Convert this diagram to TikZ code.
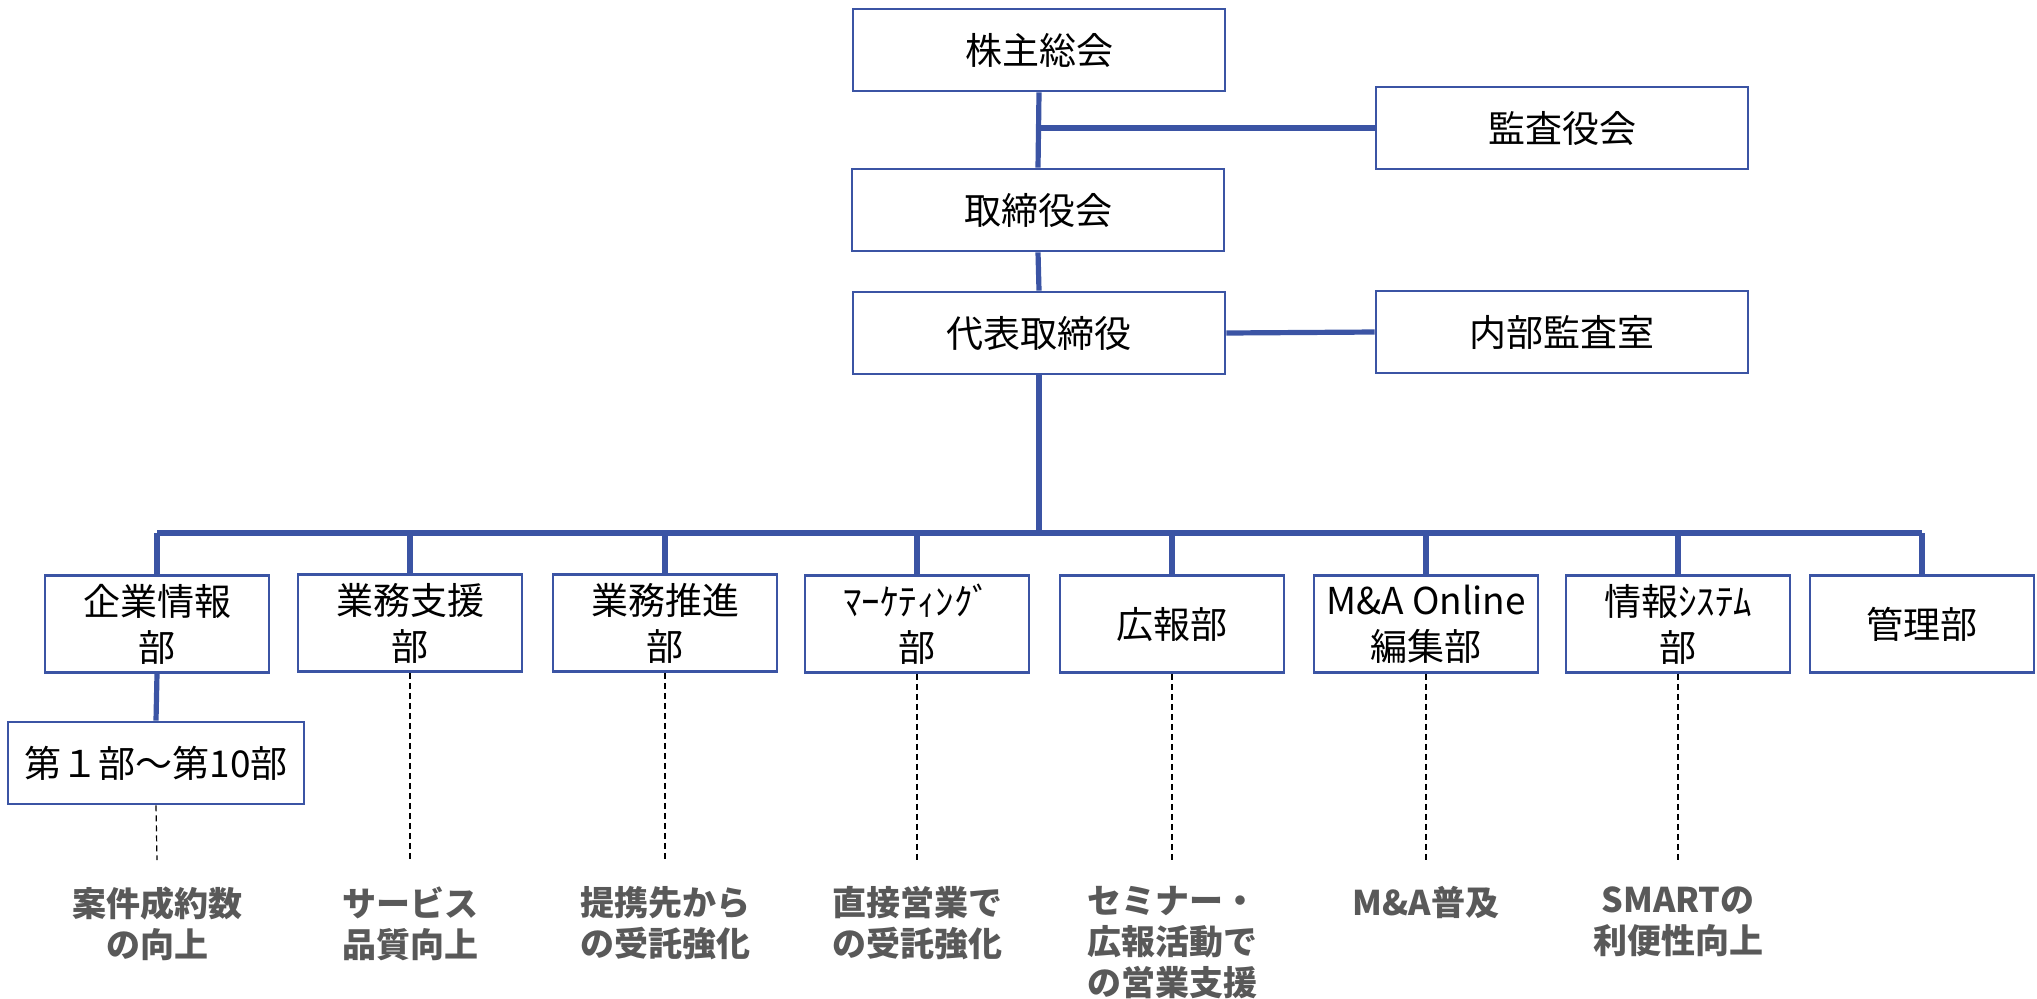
\documentclass[tikz,border=0pt]{standalone}
\usepackage{fontspec}
\setmainfont{Noto Sans CJK JP}
\usepackage{tikz}

\definecolor{orgblue}{RGB}{59,84,164}
\definecolor{goalgray}{RGB}{89,89,89}

\begin{document}
\begin{tikzpicture}[x=0.5pt,y=-0.5pt,
        orgbox/.style={draw=orgblue,line width=1.4pt,align=center,inner sep=0pt,
            font=\fontsize{18.5}{23}\selectfont},
        topbox/.style={orgbox,minimum width=186pt,minimum height=41pt},
        deptbox/.style={orgbox,minimum width=112pt,minimum height=48.5pt},
        goal/.style={anchor=north,align=center,inner sep=0pt,text=goalgray,
            font=\fontsize{17}{20.5}\selectfont\bfseries},
        conn/.style={draw=orgblue,line width=2.6pt},
        goalline/.style={draw=black,line width=0.6pt,dash pattern=on 3pt off 2pt}]
        \useasboundingbox (0,0) rectangle (2037,998);

        \node[topbox] (kabu) at (1039,50) {株主総会};
        \node[topbox] (kansa) at (1562,128) {監査役会};
        \node[topbox] (tori) at (1038,210) {取締役会};
        \node[topbox] (daihyo) at (1039,333) {代表取締役};
        \node[topbox] (naibu) at (1562,332) {内部監査室};

        \draw[conn] (kabu.south) -- (tori.north);
        \draw[conn] (kansa.west) -- (kansa.west -| kabu.south);
        \draw[conn] (tori.south) -- (daihyo.north);
        \draw[conn] (daihyo.east) -- (naibu.west);

        \node[deptbox] (d1) at (157,624) {企業情報\\部};
        \node[deptbox] (d2) at (410,623) {業務支援\\部};
        \node[deptbox] (d3) at (665,623) {業務推進\\部};
        \node[deptbox] (d4) at (917,624) {ﾏｰｹﾃｨﾝｸﾞ\\部};
        \node[deptbox] (d5) at (1172,624) {広報部};
        \node[deptbox] (d6) at (1426,624) {M\&A Online\\編集部};
        \node[deptbox] (d7) at (1678,624) {情報ｼｽﾃﾑ\\部};
        \node[deptbox] (d8) at (1922,624) {管理部};
        \node[orgbox,minimum width=148pt,minimum height=41pt] (sub) at (156,763) {第１部～第10部};

        \coordinate (bus) at (1039,533);
        \draw[conn] (daihyo.south) -- (bus);
        \draw[conn] (d1.north |- bus) -- (d8.north |- bus);
        \foreach \i in {1,...,8}
            \draw[conn] (d\i.north) -- (d\i.north |- bus);
        \draw[conn] (d1.south) -- (sub.north);

        \node[goal] (g1) at (157,886) {案件成約数\\の向上};
        \node[goal] (g2) at (410,886) {サービス\\品質向上};
        \node[goal] (g3) at (665,886) {提携先から\\の受託強化};
        \node[goal] (g4) at (917,886) {直接営業で\\の受託強化};
        \node[goal] (g5) at (1172,886) {セミナー・\\広報活動で\\の営業支援};
        \node[goal] (g6) at (1426,886) {M\&A普及};
        \node[goal] (g7) at (1678,886) {SMARTの\\利便性向上};

        \draw[goalline] (sub.south) -- ([yshift=13pt]g1.north);
        \foreach \i in {2,...,7}
            \draw[goalline] (d\i.south) -- ([yshift=13pt]g\i.north);
    \end{tikzpicture}
\end{document}
